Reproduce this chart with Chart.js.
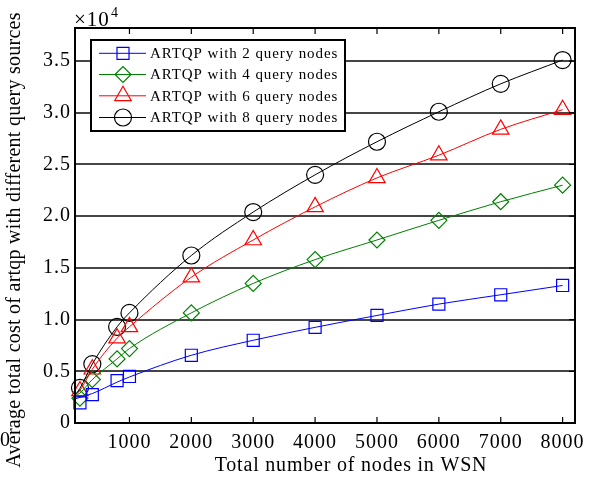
<!DOCTYPE html>
<html>
<head>
<meta charset="utf-8">
<script src="https://cdn.jsdelivr.net/npm/chart.js@4/dist/chart.umd.min.js"></script>
<style>
  html, body { margin: 0; padding: 0; background: #fff; }
  #wrap { width: 597px; height: 479px; }
</style>
</head>
<body>
<div id="wrap"><canvas id="Chart1"></canvas></div>
<script>
// data (cost in plain units, axis shows x10^4)
const nodeCounts = [200, 400, 800, 1000, 2000, 3000, 4000, 5000, 6000, 7000, 8000];
const cost2 = [1950, 2750, 4100, 4500, 6550, 8000, 9250, 10400, 11500, 12400, 13300];
const cost4 = [2400, 4200, 6200, 7200, 10650, 13500, 15800, 17700, 19600, 21400, 23000];
const cost6 = [3100, 5200, 8200, 9300, 14100, 17700, 20900, 23700, 25900, 28400, 30300];
const cost8 = [3400, 5700, 9300, 10650, 16200, 20400, 24000, 27200, 30100, 32800, 35100];

// fitted curves drawn under the markers (they start at the left edge)
const curveX = [120, 200, 400, 800, 1000, 2000, 3000, 4000, 5000, 6000, 7000, 8000];
const curve2 = [2330, 2480, 2850, 3950, 4450, 6550, 8000, 9250, 10400, 11500, 12400, 13300];
const curve4 = [2600, 2900, 4200, 6200, 7200, 10650, 13500, 15800, 17700, 19600, 21400, 23000];
const curve6 = [2700, 3150, 5200, 8200, 9300, 14100, 17700, 20900, 23700, 25900, 28400, 30300];
const curve8 = [2700, 3350, 5700, 9300, 10650, 16200, 20400, 24000, 27200, 30100, 32800, 35100];

const seriesLabels = ['ARTQP with 2 query nodes', 'ARTQP with 4 query nodes',
                      'ARTQP with 6 query nodes', 'ARTQP with 8 query nodes'];
const seriesColors = ['#0000ff', '#008000', '#ff0000', '#000000'];
const seriesStyles = ['rect', 'rectRot', 'triangle', 'circle'];
const seriesRadius = [8.5, 8, 9.5, 8.5];

const xTicks = [1000, 2000, 3000, 4000, 5000, 6000, 7000, 8000];
const yTicks = [0, 5000, 10000, 15000, 20000, 25000, 30000, 35000];

const serif = "'Liberation Serif', 'Times New Roman', serif";
Chart.defaults.font.family = serif;

function pts(xs, ys) {
  return xs.map((x, i) => ({ x: x, y: ys[i] }));
}

const curves = [curve2, curve4, curve6, curve8];
const marks = [cost2, cost4, cost6, cost8];

const datasets = [];
curves.forEach((c, i) => {
  datasets.push({
    label: seriesLabels[i] + ' curve',
    data: pts(curveX, c),
    borderColor: seriesColors[i],
    borderWidth: 1,
    pointRadius: 0,
    cubicInterpolationMode: 'monotone',
    fill: false
  });
});
marks.forEach((m, i) => {
  datasets.push({
    label: seriesLabels[i],
    data: pts(nodeCounts, m),
    showLine: false,
    borderColor: seriesColors[i],
    backgroundColor: 'rgba(0,0,0,0)',
    pointStyle: seriesStyles[i],
    pointRadius: seriesRadius[i],
    pointBorderWidth: 1.2,
    clip: false
  });
});

// frame, inward ticks, legend box and free texts
const framePlugin = {
  id: 'frame',
  afterDraw(chart) {
    const ctx = chart.ctx;
    const a = chart.chartArea;
    const xs = chart.scales.x;
    const ys = chart.scales.y;
    ctx.save();
    ctx.strokeStyle = '#000';
    ctx.lineWidth = 2;
    ctx.strokeRect(a.left, a.top, a.right - a.left, a.bottom - a.top);
    ctx.lineWidth = 1.2;
    ctx.beginPath();
    xTicks.forEach(v => {
      const px = xs.getPixelForValue(v);
      ctx.moveTo(px, a.top); ctx.lineTo(px, a.top + 6);
      ctx.moveTo(px, a.bottom); ctx.lineTo(px, a.bottom - 6);
    });
    yTicks.forEach(v => {
      const py = ys.getPixelForValue(v);
      ctx.moveTo(a.right, py); ctx.lineTo(a.right - 6, py);
    });
    ctx.stroke();

    // legend
    const bx = 91, by = 40, bw = 254, bh = 91;
    ctx.fillStyle = '#fff';
    ctx.fillRect(bx, by, bw, bh);
    ctx.lineWidth = 2;
    ctx.strokeStyle = '#000';
    ctx.strokeRect(bx, by, bw, bh);
    const rows = [53.3, 74.5, 95.8, 117.5];
    ctx.font = '15px ' + serif;
    ctx.letterSpacing = '0.9px';
    ctx.textBaseline = 'middle';
    ctx.textAlign = 'left';
    rows.forEach((ry, i) => {
      ctx.strokeStyle = seriesColors[i];
      ctx.lineWidth = 1;
      ctx.beginPath();
      ctx.moveTo(99, ry); ctx.lineTo(146, ry);
      ctx.stroke();
      ctx.fillStyle = 'rgba(0,0,0,0)';
      ctx.lineWidth = 1.2;
      Chart.helpers.drawPoint(ctx, {
        pointStyle: seriesStyles[i], rotation: 0,
        radius: seriesRadius[i], borderWidth: 1.2
      }, 123, ry);
      ctx.fillStyle = '#000';
      ctx.fillText(seriesLabels[i], 150, ry + 1);
    });

    // axis titles and exponent
    ctx.fillStyle = '#000';
    ctx.letterSpacing = '0.8px';
    ctx.font = '20px ' + serif;
    ctx.textAlign = 'center';
    ctx.textBaseline = 'middle';
    ctx.fillText('Total number of nodes in WSN', 351, 466);
    ctx.letterSpacing = '0.25px';
    ctx.save();
    ctx.translate(15, 240);
    ctx.rotate(-Math.PI / 2);
    ctx.fillText('Average total cost of artqp with different query sources', 0, 0);
    ctx.restore();
    ctx.fillText('0', 5, 441);
    ctx.letterSpacing = '1px';
    ctx.textAlign = 'left';
    ctx.textBaseline = 'alphabetic';
    ctx.font = '21px ' + serif;
    ctx.fillText('\u00d710', 74, 26);
    ctx.font = '14px ' + serif;
    ctx.fillText('4', 111, 17);
    ctx.restore();
  }
};

const bgPlugin = {
  id: 'bg',
  beforeDraw(chart) {
    const ctx = chart.ctx;
    ctx.save();
    ctx.fillStyle = '#fff';
    ctx.fillRect(0, 0, chart.width, chart.height);
    ctx.restore();
    ctx.letterSpacing = '1px';
  }
};

const chartConfig = {
  type: 'line',
  data: { datasets: datasets },
  options: {
    responsive: true,
    maintainAspectRatio: false,
    animation: false,
    layout: { padding: { left: 0, right: 22, top: 28, bottom: 0 } },
    plugins: { legend: { display: false }, tooltip: { enabled: false } },
    scales: {
      x: {
        type: 'linear',
        min: 120,
        max: 8200,
        afterBuildTicks: s => { s.ticks = xTicks.map(v => ({ value: v })); },
        afterFit: s => { s.height = 56; },
        grid: { display: false, drawTicks: false },
        border: { display: false },
        ticks: {
          color: '#000',
          font: { size: 20, family: serif },
          padding: 8,
          maxRotation: 0,
          callback: v => String(v)
        }
      },
      y: {
        type: 'linear',
        min: 0,
        max: 38200,
        afterBuildTicks: s => { s.ticks = yTicks.map(v => ({ value: v })); },
        afterFit: s => { s.width = 75; },
        grid: { color: '#454545', lineWidth: 2, drawTicks: false },
        border: { display: false },
        ticks: {
          color: '#000',
          font: { size: 20, family: serif },
          padding: 4,
          callback: v => (v === 0 ? '0' : (v / 10000).toFixed(1))
        }
      }
    }
  },
  plugins: [bgPlugin, framePlugin]
};

document.addEventListener('DOMContentLoaded', () => {
  const ctx = document.getElementById('Chart1').getContext('2d');
  new Chart(ctx, chartConfig);
});
</script>
</body>
</html>
